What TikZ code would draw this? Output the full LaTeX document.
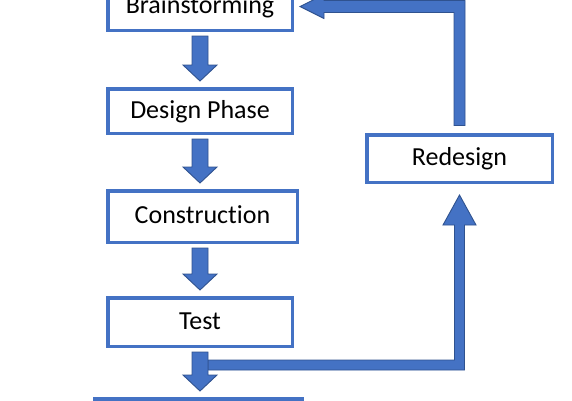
\documentclass[tikz,border=0pt]{standalone}
\usepackage{fontspec}
\setmainfont{Carlito}[Ligatures=NoCommon]
\usetikzlibrary{calc}
\definecolor{boxblue}{HTML}{4472C4}
\definecolor{arrowline}{HTML}{2F528F}
\tikzset{
  stepbox/.style={draw=boxblue, line width=3.5pt, fill=white, inner sep=0pt,
    font=\fontsize{26}{31}\selectfont, text height=17pt, text depth=3pt},
  blockarrow/.style={fill=boxblue, draw=arrowline, line width=0.9pt, line join=miter},
}
\newcommand\flowdown[2]{%
  \draw[blockarrow] ($(#1.south -| col)+(-8,4)$) -- ($(#1.south -| col)+(8,4)$)
    -- ($(#2.north -| col)+(8,-22)$) -- ($(#2.north -| col)+(17,-22)$)
    -- ($(#2.north -| col)+(0,-6)$) -- ($(#2.north -| col)+(-17,-22)$)
    -- ($(#2.north -| col)+(-8,-22)$) -- cycle;}
\begin{document}
\begin{tikzpicture}[x=1pt,y=-1pt]
\useasboundingbox (0,0) rectangle (572,400);
\clip (0,0) rectangle (572,400);
\coordinate (col) at (200,0);
\node[stepbox, minimum width=184.5pt, minimum height=47.5pt] (b1) at (200,6.5) {Brainstorming};
\node[stepbox, minimum width=184.5pt, minimum height=44.5pt] (b2) at (200,111) {Design Phase};
\node[stepbox, minimum width=189.5pt, minimum height=51.5pt] (b3) at (202.5,216.5) {Construction};
\node[stepbox, minimum width=184.5pt, minimum height=48.5pt] (b4) at (200,322) {Test};
\node[stepbox, minimum width=207.5pt, minimum height=46.5pt] (b5) at (198.5,422) {};
\node[stepbox, minimum width=185.5pt, minimum height=47.5pt] (r) at (459.5,158.5) {Redesign};
\flowdown{b1}{b2}
\flowdown{b2}{b3}
\flowdown{b3}{b4}
% Test -> Redesign elbow
\draw[blockarrow] ($(b4.south -| col)+(8,12)$) -- ($(b4.south -| r.south)+(-5,12)$)
  -- ($(r.south)+(-5,41)$) -- ($(r.south)+(-16.5,41)$) -- ($(r.south)+(0,11)$)
  -- ($(r.south)+(16.5,41)$) -- ($(r.south)+(5,41)$)
  -- ($(b4.south -| r.south)+(5,22)$) -- ($(b4.south -| col)+(8,22)$) -- cycle;
\flowdown{b4}{b5}
% Redesign -> Brainstorming feedback
\draw[blockarrow] ($(r.north)+(-5.5,-7.5)$) -- ($(r.north |- b1.east)+(-5.5,6)$)
  -- ($(b1.east)+(30,6)$) -- ($(b1.east)+(30,12)$) -- ($(b1.east)+(6,0)$)
  -- ($(b1.east)+(30,-12)$) -- ($(b1.east)+(30,-6)$)
  -- ($(r.north |- b1.east)+(5.5,-6)$) -- ($(r.north)+(5.5,-7.5)$) -- cycle;
\end{tikzpicture}
\end{document}
